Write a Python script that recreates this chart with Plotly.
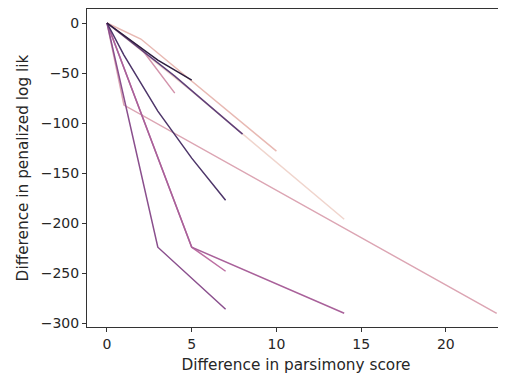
import plotly.graph_objects as go

# Each run: parsimony-score difference (x) vs penalized log-lik difference (y)
run_x = [
    [0, 5, 14],
    [0, 2, 10],
    [0, 1, 23],
    [0, 2, 4],
    [0, 5, 7],
    [0, 5, 14],
    [0, 3, 7],
    [0, 4, 8],
    [0, 1, 3, 5, 7],
    [0, 3, 5],
]
run_y = [
    [0, -68, -196],
    [0, -16, -128],
    [0, -82, -290],
    [0, -25, -70],
    [0, -224, -248],
    [0, -224, -290],
    [0, -224, -286],
    [0, -53, -111],
    [0, -32, -88, -135, -177],
    [0, -37, -57],
]
run_colors = [
    "#f0d5cd", "#e8b9b3", "#dca5b3", "#d393ab", "#bd6fa2",
    "#a9619a", "#8a4f8d", "#5f3f78", "#4d3569", "#2d1e3e",
]

x_ticks = [0, 5, 10, 15, 20]
y_ticks = [0, -50, -100, -150, -200, -250, -300]

fig = go.Figure()
for xs, ys, c in zip(run_x, run_y, run_colors):
    fig.add_trace(go.Scatter(x=xs, y=ys, mode="lines",
                             line=dict(color=c, width=1.5),
                             showlegend=False, hoverinfo="skip"))

font = dict(family="DejaVu Sans", size=14, color="#262626")
title_font = dict(family="DejaVu Sans", size=15.3, color="#262626")
fig.update_layout(
    width=506, height=376,
    margin=dict(l=79, r=9, t=1, b=57),
    paper_bgcolor="white", plot_bgcolor="white",
    font=font, showlegend=False,
)
fig.update_xaxes(
    range=[-1.18, 23.49], tickvals=x_ticks, ticktext=[str(v) for v in x_ticks],
    showgrid=False, zeroline=False, automargin=False,
    showline=True, linecolor="#333333", linewidth=1, mirror=True,
    ticks="outside", ticklen=4, tickcolor="#333333",
    title=dict(text="Difference in parsimony score", font=title_font, standoff=8),
)
fig.update_yaxes(
    range=[-303.7, 14], tickvals=y_ticks,
    ticktext=["0" if v == 0 else "\u2212" + str(-v) for v in y_ticks],
    showgrid=False, zeroline=False, automargin=False,
    showline=True, linecolor="#333333", linewidth=1,
    ticks="outside", ticklen=4, tickcolor="#333333",
    title=dict(text="Difference in penalized log lik", font=title_font, standoff=8),
)
fig.write_html("out.html")
